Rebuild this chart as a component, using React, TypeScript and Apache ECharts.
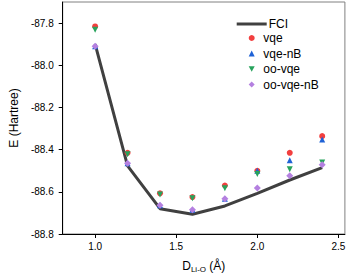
import React, { useEffect, useRef } from "react";
import * as echarts from "echarts";

const xValues = [1.0, 1.2, 1.4, 1.6, 1.8, 2.0, 2.2, 2.4];
const fci = [-87.9, -88.477, -88.68, -88.706, -88.667, -88.607, -88.544, -88.485];
const vqe = [-87.816, -88.415, -88.607, -88.625, -88.57, -88.5, -88.415, -88.336];
const vqeNB = [-87.91, -88.465, -88.664, -88.685, -88.633, -88.5, -88.45, -88.352];
const ooVqe = [-87.832, -88.422, -88.613, -88.63, -88.583, -88.516, -88.493, -88.461];
const ooVqeNB = [-87.91, -88.465, -88.664, -88.685, -88.633, -88.582, -88.524, -88.472];
const xTicks = [1.0, 1.5, 2.0, 2.5];
const yTicks = [-88.8, -88.6, -88.4, -88.2, -88.0, -87.8];

const pair = (ys: number[]) => xValues.map((x, i) => [x, ys[i]]);

export default function App() {
  const ref = useRef<HTMLDivElement>(null);
  useEffect(() => {
    if (!ref.current) return;
    const chart = echarts.init(ref.current, null, { renderer: "svg" });
    const font = "Liberation Sans, Arial, sans-serif";
    chart.setOption({
      animation: false,
      textStyle: { fontFamily: font },
      grid: {
        left: 46.7,
        right: 2,
        top: 2,
        bottom: 41,
        show: true,
        borderColor: "#808080",
        borderWidth: 1,
      },
      legend: [
        {
          orient: "vertical",
          left: 231.7,
          top: 13,
          itemWidth: 30,
          itemHeight: 3,
          textStyle: { fontSize: 12, color: "#000", fontFamily: font, padding: [0, 0, 0, -3] },
          data: [{ name: "FCI", icon: "rect" }],
        },
        {
          orient: "vertical",
          left: 243.7,
          top: 27,
          itemWidth: 6,
          itemHeight: 6,
          itemGap: 3.5,
          textStyle: { fontSize: 12, color: "#000", fontFamily: font, padding: [0, 0, 0, 3.6] },
          data: [
            { name: "vqe", icon: "circle" },
            { name: "vqe-nB", icon: "triangle" },
            { name: "oo-vqe", icon: "path://M0,0L10,0L5,9Z" },
            { name: "oo-vqe-nB", icon: "diamond" },
          ],
        },
      ],
      xAxis: {
        type: "value",
        min: 0.8,
        max: 2.54,
        name: "{m|D}{s|Li-O}{m| (Å)}",
        nameLocation: "middle",
        nameGap: 25,
        nameTextStyle: {
          rich: {
            m: { fontSize: 12, color: "#000", fontFamily: font },
            s: { fontSize: 8, color: "#000", fontFamily: font, padding: [6, 0, 0, 0] },
          },
        },
        splitLine: { show: false },
        axisLine: { show: true, lineStyle: { color: "#000", width: 1 } },
        axisTick: { show: true, length: 4, customValues: xTicks, lineStyle: { color: "#000" } },
        axisLabel: {
          customValues: xTicks,
          fontSize: 10,
          color: "#000",
          margin: 7,
          formatter: (v: number) => v.toFixed(1),
        },
      },
      yAxis: {
        type: "value",
        min: -88.8,
        max: -87.7,
        name: "E (Hartree)",
        nameLocation: "middle",
        nameGap: 29,
        nameTextStyle: { fontSize: 12, color: "#000", fontFamily: font },
        splitLine: { show: false },
        axisLine: { show: true, lineStyle: { color: "#000", width: 1 } },
        axisTick: { show: true, length: 4, customValues: yTicks, lineStyle: { color: "#000" } },
        axisLabel: {
          customValues: yTicks,
          fontSize: 10,
          color: "#000",
          margin: 9,
          formatter: (v: number) => v.toFixed(1),
        },
      },
      series: [
        {
          name: "FCI",
          type: "line",
          data: pair(fci),
          symbol: "none",
          lineStyle: { color: "#404040", width: 3 },
          itemStyle: { color: "#404040" },
          z: 1,
        },
        {
          name: "vqe",
          type: "scatter",
          data: pair(vqe),
          symbol: "circle",
          symbolSize: 6,
          itemStyle: { color: "#f23f3f", opacity: 1 },
          z: 2,
        },
        {
          name: "vqe-nB",
          type: "scatter",
          data: pair(vqeNB),
          symbol: "triangle",
          symbolSize: 6,
          itemStyle: { color: "#1f62d6", opacity: 1 },
          z: 3,
        },
        {
          name: "oo-vqe",
          type: "scatter",
          data: pair(ooVqe),
          symbol: "triangle",
          symbolRotate: 180,
          symbolSize: 6,
          itemStyle: { color: "#27a35c", opacity: 1 },
          z: 4,
        },
        {
          name: "oo-vqe-nB",
          type: "scatter",
          data: pair(ooVqeNB),
          symbol: "diamond",
          symbolSize: 7,
          itemStyle: { color: "#b480e0", opacity: 1 },
          z: 5,
        },
      ],
    });
    return () => chart.dispose();
  }, []);
  return (
    <div
      ref={ref}
      style={{ position: "absolute", left: 0, top: 0, width: 348, height: 278 }}
    />
  );
}
